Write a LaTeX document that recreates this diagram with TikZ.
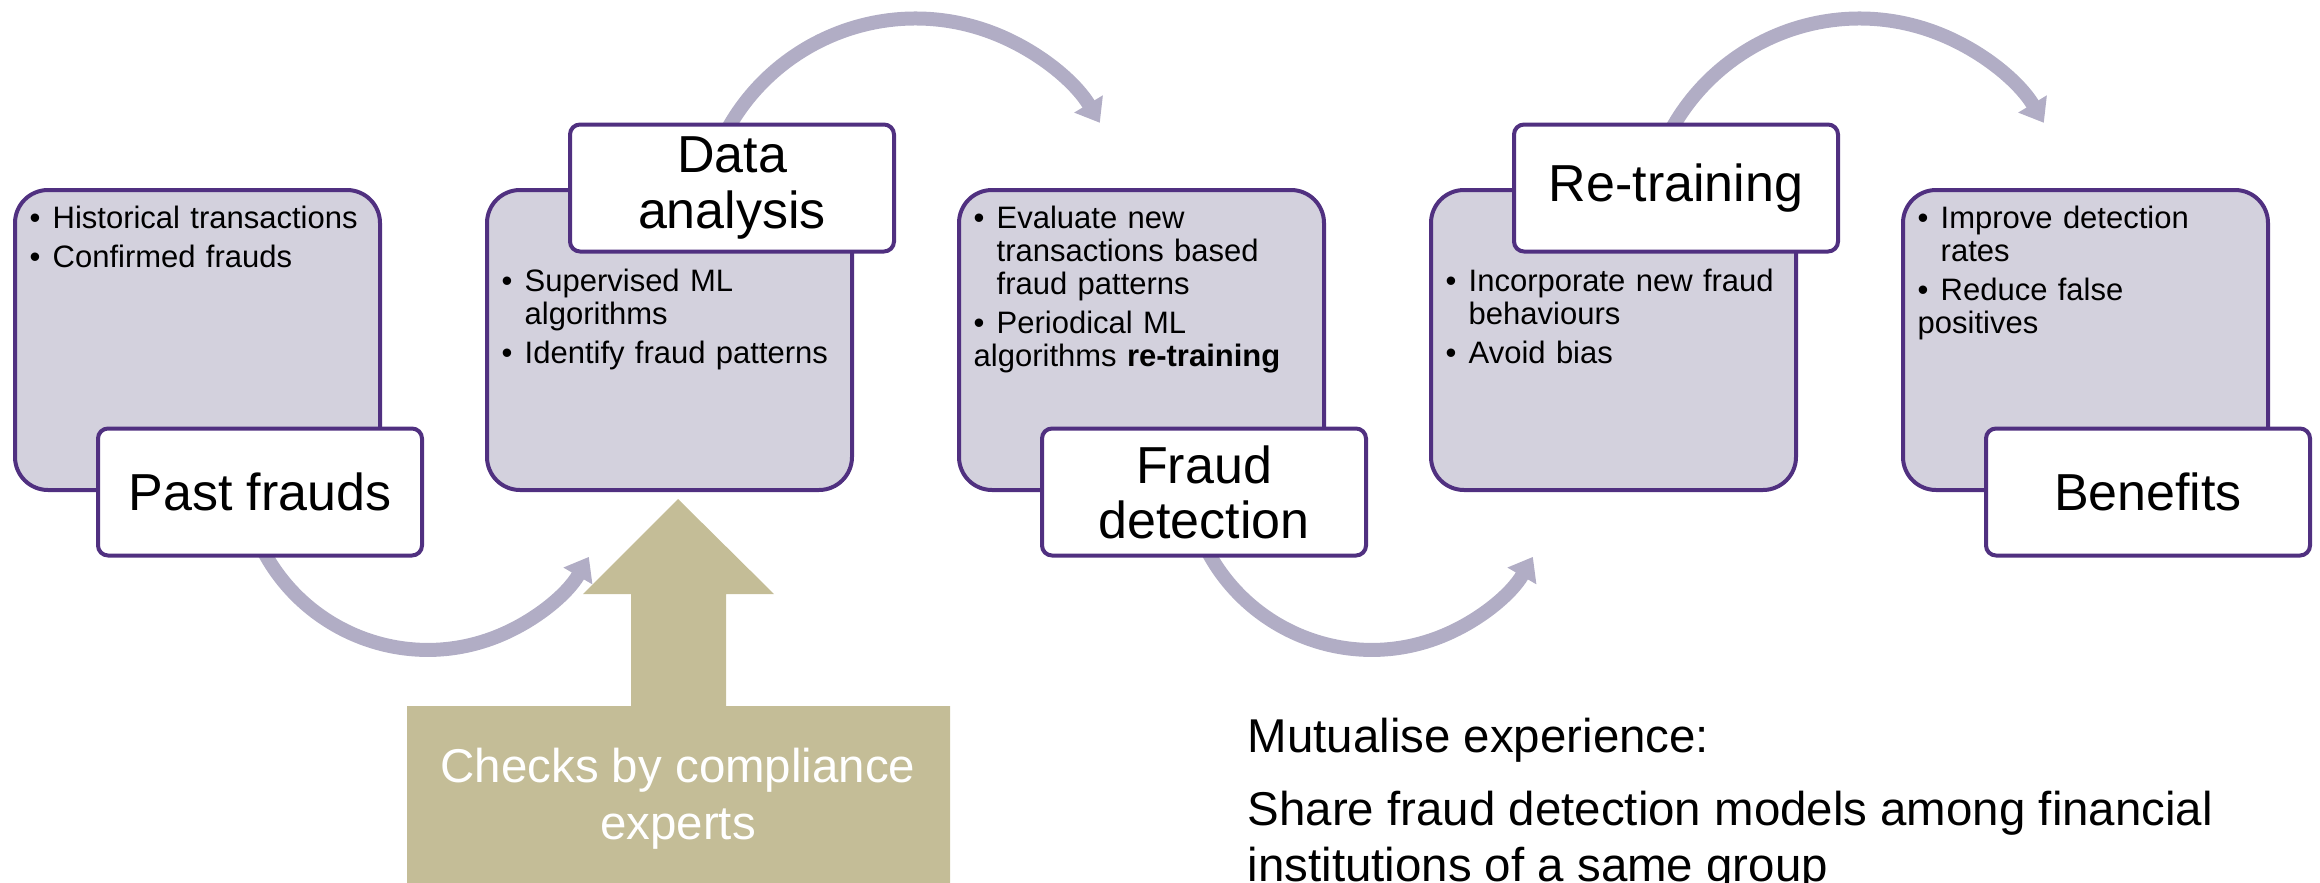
\documentclass[tikz,border=0pt]{standalone}
\usepackage{fontspec}
\setmainfont{Liberation Sans}
\usetikzlibrary{arrows.meta, positioning, backgrounds}
\usepackage{xcolor}

\definecolor{boxline}{RGB}{80,48,128}
\definecolor{boxfill}{RGB}{211,209,221}
\definecolor{flowgray}{RGB}{177,173,197}
\definecolor{khaki}{RGB}{196,189,151}

% one bullet of a list inside a stage box
\newcommand{\bitem}{\par\hangindent=0.23cm\hangafter=1\noindent\hbox to 0.23cm{\textbullet\hfil}\rule{0pt}{0.24cm}}

\begin{document}
\begin{tikzpicture}[node distance=4.72cm, >={Triangle[length=0.22cm, width=0.32cm]}]
		\useasboundingbox (0,0) rectangle (23.2,8.82);
		\clip (0,0) rectangle (23.2,8.82);
		
		% Define styles
		\tikzstyle{stage} = [rectangle, rounded corners=0.33cm, draw=boxline, line width=0.04cm, fill=boxfill, minimum width=3.65cm, minimum height=3.0cm]
		\tikzstyle{title} = [rectangle, rounded corners=0.1cm, draw=boxline, line width=0.04cm, fill=white, minimum width=3.24cm, minimum height=1.27cm, align=center, font=\fontsize{14.8}{15.65}\selectfont]
		\tikzstyle{points} = [anchor=north west, inner sep=0pt, text width=3.6cm, align=left, font=\fontsize{8.82}{9.39}\selectfont\setlength{\parskip}{1.7pt}]
		\tikzstyle{flow} = [->, draw=flowgray, line width=0.14cm]
		
		% Nodes
		\node[stage] (past) at (1.975,5.42) {};
		\node[stage, right of=past] (analysis) {};
		\node[stage, right of=analysis] (detection) {};
		\node[stage, right of=detection] (retrain) {};
		\node[stage, right of=retrain] (benefit) {};
		
		% Bullet lists
		\node[points] (pastpts) at ([shift={(0.16,-0.01)}]past.north west) {\bitem Historical transactions\bitem Confirmed frauds};
		\node[points] (analysispts) at ([shift={(0.16,-0.64)}]analysis.north west) {\bitem Supervised ML\newline algorithms\bitem Identify fraud patterns};
		\node[points] (detectionpts) at ([shift={(0.16,-0.01)}]detection.north west) {\bitem Evaluate new\newline transactions based\newline fraud patterns\bitem Periodical ML\newline algorithms \textbf{re-training}};
		\node[points] (retrainpts) at ([shift={(0.16,-0.64)}]retrain.north west) {\bitem Incorporate new fraud\newline behaviours\bitem Avoid bias};
		\node[points] (benefitpts) at ([shift={(0.16,-0.01)}]benefit.north west) {\bitem Improve detection\newline rates\bitem Reduce false\newline positives};
		
		% Titles
		\node[title] (pastlbl) at ([xshift=0.625cm]past.south) {Past frauds};
		\node[title] (analysislbl) at ([xshift=0.625cm]analysis.north) {Data\\analysis};
		\node[title] (detectionlbl) at ([xshift=0.625cm]detection.south) {Fraud\\detection};
		\node[title] (retrainlbl) at ([xshift=0.625cm]retrain.north) {Re-training};
		\node[title] (benefitlbl) at ([xshift=0.625cm]benefit.south) {Benefits};
		
		% Arrows
		\begin{scope}[on background layer]
			\draw[flow] ([shift={(-0.07,0.30)}]pastlbl.south) arc[start angle=200, end angle=330, radius=1.86cm];
			\draw[flow] ([shift={(-0.185,-0.375)}]analysislbl.north) arc[start angle=160, end angle=31, radius=2.15cm];
			\draw[flow] ([shift={(-0.07,0.30)}]detectionlbl.south) arc[start angle=200, end angle=330, radius=1.86cm];
			\draw[flow] ([shift={(-0.185,-0.375)}]retrainlbl.north) arc[start angle=160, end angle=31, radius=2.15cm];
		\end{scope}
		
		% Compliance checks
		\fill[khaki] (4.07,-0.2) -- (4.07,1.76) -- (6.31,1.76) -- (6.31,2.88) -- (5.83,2.88) -- (6.78,3.83)
			-- (7.74,2.88) -- (7.26,2.88) -- (7.26,1.76) -- (9.50,1.76) -- (9.50,-0.2) -- cycle;
		\node[text=white, align=center, font=\fontsize{13.5}{16.2}\selectfont] (checks) at (6.78,0.83) {Checks by compliance\\experts};
		
		% Additional Text
		\node[anchor=north west, inner sep=0pt, align=left, font=\fontsize{13.5}{15.93}\selectfont] (mutual) at (12.47,1.70) {\rule{0pt}{0.4cm}Mutualise experience:\\[0.17cm]Share fraud detection models among financial\\institutions of a same group};
		
	\end{tikzpicture}
\end{document}
